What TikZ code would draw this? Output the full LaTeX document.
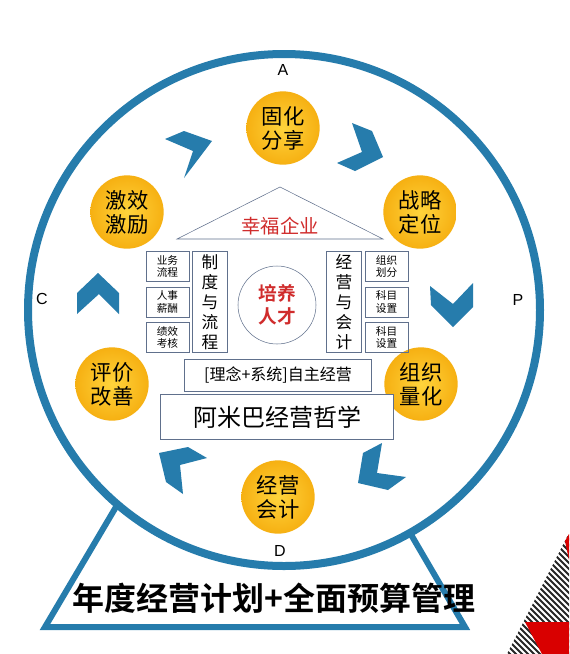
\documentclass[tikz,border=0pt]{standalone}
\usepackage{fontspec}
\setmainfont{Liberation Sans}
\newfontfamily\cjk{Noto Sans CJK SC}
\newfontfamily\cjkbf{Noto Sans CJK SC Bold}
\usetikzlibrary{positioning}
\definecolor{ringblue}{RGB}{38,124,172}
\definecolor{boxline}{RGB}{96,112,140}
\definecolor{redtxt}{RGB}{208,44,44}
\definecolor{gold1}{RGB}{255,212,60}
\definecolor{gold2}{RGB}{246,176,18}
\tikzset{
  yb/.style={circle, minimum size=55pt, inner sep=0pt, align=center, inner color=gold1, outer color=gold2, font=\cjk\fontsize{16}{18}\selectfont},
  sb/.style={rectangle, draw=boxline, minimum width=32pt, minimum height=22.5pt, inner sep=0pt, align=center, font=\cjk\fontsize{8}{9.5}\selectfont},
  vb/.style={rectangle, draw=boxline, minimum width=26pt, minimum height=76pt, inner sep=0pt, align=center, font=\cjk\fontsize{12.5}{15}\selectfont},
  wb/.style={rectangle, draw=boxline, inner sep=0pt, align=center, fill=white},
  lt/.style={font=\fontsize{12}{14}\selectfont},
  chev/.style={fill=ringblue},
  node distance=3.75pt
}
\begin{document}
\begin{tikzpicture}[x=0.75pt,y=-0.75pt]
\useasboundingbox (0,0) rectangle (569,654);
% base and ring
\draw[ringblue, line width=4.5pt, line join=miter] (126,490) -- (45,627) -- (465,627) -- (385,490);
\draw[ringblue, line width=6pt, fill=white] (284,310) circle (256);
\node[font=\cjkbf\fontsize{24}{26}\selectfont] (plan) at (274,598) {年度经营计划+全面预算管理};

% corner decoration
\begin{scope}
\clip (568,535) -- (569,535) -- (569,654) -- (507,654) -- cycle;
\foreach \k in {-120,-114,...,90}
  \draw[black!85, line width=1.4pt] (480+\k,510) -- (630+\k,660);
\end{scope}
\fill[red!85!black] (525,622) -- (569,622) -- (569,654) -- (542,654) -- cycle;
\fill[red!85!black] (565,541) -- (569,534) -- (569,560) -- cycle;

\node[lt] (a) at (283,70) {A};
\node[lt] (p) at (518,300) {P};
\node[lt] (d) at (280,551) {D};
\node[lt] (c) at (42,299) {C};

\node[yb] (share) at (283,128) {固化\\分享};
\node[yb] (strategy) at (420,212) {战略\\定位};
\node[yb] (quantify) at (421,384) {组织\\量化};
\node[yb] (account) at (278,497) {经营\\会计};
\node[yb] (improve) at (112,384) {评价\\改善};
\node[yb] (motivate) at (127,212) {激效\\激励};

\fill[chev] (165,139) -- (184,131) -- (212,141) -- (184,178) -- (193,151) -- cycle;
\fill[chev] (352,123) -- (372,131) -- (383,157) -- (355,171) -- (337,163) -- (362,152) -- cycle;
\fill[chev] (430,286) -- (453,304) -- (473,283) -- (473,307) -- (453,327) -- (431,305) -- cycle;
\fill[chev] (382,443) -- (363,453) -- (358,483) -- (388,490) -- (406,477) -- (377,473) -- cycle;
\fill[chev] (159,453) -- (188,447) -- (207,458) -- (180,465) -- (183,494) -- (166,482) -- cycle;
\fill[chev] (98,273) -- (119,293) -- (119,314) -- (99,294) -- (77,314) -- (77,293) -- cycle;

% house
\draw[boxline] (177,239) -- (280,187) -- (383,239) -- cycle;
\node[font=\cjk\fontsize{14.5}{16}\selectfont, text=redtxt] (happy) at (280,226) {幸福企业};
\node[circle, draw=boxline, minimum size=58.5pt, inner sep=0pt, align=center, text=redtxt, font=\cjkbf\fontsize{14}{17}\selectfont] (talent) at (277,305) {培养\\人才};

\node[vb] (rules) at (210,302) {制\\度\\与\\流\\程};
\node[vb] (mgmt) at (344,302) {经\\营\\与\\会\\计};

\node[sb, left=2.5pt of rules] (pay) {人事\\薪酬};
\node[sb, above=of pay] (flow) {业务\\流程};
\node[sb, below=of pay] (perf) {绩效\\考核};
\node[sb, right=2.5pt of mgmt] (set1) {科目\\设置};
\node[sb, above=of set1] (org) {组织\\划分};
\node[sb, below=of set1] (set2) {科目\\设置};

\node[wb, minimum width=140pt, minimum height=24pt, font=\cjk\fontsize{12}{14}\selectfont] (self) at (278,375) {[理念+系统]自主经营};
\node[wb, minimum width=175pt, minimum height=34pt, font=\cjk\fontsize{18}{20}\selectfont] (amoeba) at (277,417) {阿米巴经营哲学};
\end{tikzpicture}
\end{document}
